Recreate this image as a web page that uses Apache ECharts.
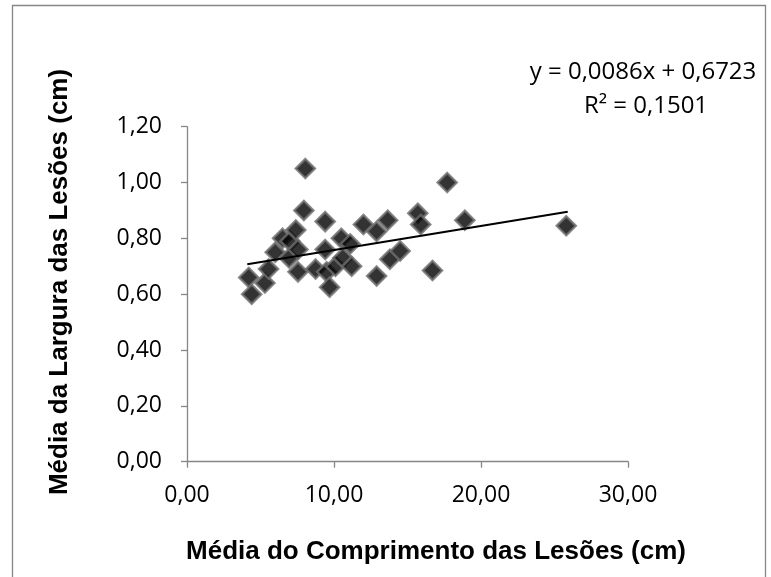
<!DOCTYPE html>
<html>
<head>
<meta charset="utf-8">
<script src="https://cdn.jsdelivr.net/npm/echarts@6/dist/echarts.min.js"></script>
<style>html,body{margin:0;padding:0;background:#fff}#c{width:771px;height:577px}</style>
</head>
<body>
<div id="c"></div>
<script>
const xValues = [4.2, 4.4, 5.3, 5.55, 6.0, 6.5, 7.0, 6.95, 7.4, 7.55, 7.55, 7.95, 8.05, 8.75, 9.4, 9.4, 9.5, 9.7, 10.1, 10.5, 10.6, 11.1, 11.2, 12.0, 12.9, 12.9, 13.65, 13.8, 14.5, 15.7, 15.9, 16.7, 17.7, 18.9, 25.8];
const yValues = [0.66, 0.60, 0.64, 0.69, 0.75, 0.80, 0.79, 0.73, 0.83, 0.76, 0.68, 0.90, 1.05, 0.69, 0.86, 0.76, 0.68, 0.625, 0.70, 0.80, 0.73, 0.78, 0.70, 0.85, 0.825, 0.665, 0.865, 0.725, 0.755, 0.89, 0.85, 0.685, 1.00, 0.865, 0.845];
const trendX = [4.1, 25.9];
const trendY = [0.7076, 0.8950];
const xTicks = [0, 10, 20, 30];
const yTicks = [0, 0.2, 0.4, 0.6, 0.8, 1.0, 1.2];
const xTitle = 'Média do Comprimento das Lesões (cm)';
const yTitle = 'Média da Largura das Lesões (cm)';
const eqLine1 = 'y = 0,0086x + 0,6723';
const eqLine2 = 'R² = 0,1501';

const fmt = v => v.toFixed(2).replace('.', ',');
const chart = echarts.init(document.getElementById('c'));
const axisCol = '#868686';
const tickFont = "'Open Sans', sans-serif";
chart.setOption({
  animation: false,
  backgroundColor: '#fff',
  grid: { left: 187, top: 126.7, right: 143, bottom: 115.3 },
  xAxis: {
    type: 'value', min: xTicks[0], max: xTicks[xTicks.length - 1], interval: 10,
    axisLine: { onZero: false, lineStyle: { color: axisCol, width: 1.3 } },
    axisTick: { show: true, inside: false, length: 6, lineStyle: { color: axisCol, width: 1.3 } },
    splitLine: { show: false },
    axisLabel: { formatter: fmt, color: '#000', fontFamily: tickFont, fontSize: 23, margin: 22 }
  },
  yAxis: {
    type: 'value', min: yTicks[0], max: yTicks[yTicks.length - 1], interval: 0.2,
    axisLine: { show: true, onZero: false, lineStyle: { color: axisCol, width: 1.3 } },
    axisTick: { show: true, inside: false, length: 6, lineStyle: { color: axisCol, width: 1.3 } },
    splitLine: { show: false },
    axisLabel: { formatter: fmt, color: '#000', fontFamily: tickFont, fontSize: 23, margin: 25 }
  },
  series: [
    {
      type: 'scatter',
      data: xValues.map((x, i) => [x, yValues[i]]),
      symbol: 'diamond',
      symbolSize: 19,
      itemStyle: { color: '#000', borderColor: '#6e6e6e', borderWidth: 2.5 },
      z: 2
    },
    {
      type: 'line',
      data: trendX.map((x, i) => [x, trendY[i]]),
      symbol: 'none',
      lineStyle: { color: '#000', width: 2 },
      z: 3
    }
  ],
  graphic: [
    { type: 'rect', shape: { x: 12.5, y: 5.5, width: 753, height: 600 }, style: { fill: 'none', stroke: axisCol, lineWidth: 1.3 }, silent: true },
    { type: 'text', x: 643, y: 72, style: { text: eqLine1, font: "24px 'Open Sans', sans-serif", fill: '#000', textAlign: 'center', textVerticalAlign: 'middle' } },
    { type: 'text', x: 646, y: 106, style: { text: eqLine2, font: "24px 'Open Sans', sans-serif", fill: '#000', textAlign: 'center', textVerticalAlign: 'middle' } },
    { type: 'text', x: 436, y: 552, style: { text: xTitle, font: "bold 26px 'Liberation Sans', Arial, sans-serif", fill: '#000', textAlign: 'center', textVerticalAlign: 'middle' } },
    { type: 'text', x: 60, y: 282, rotation: Math.PI / 2, style: { text: yTitle, font: "bold 26px 'Liberation Sans', Arial, sans-serif", fill: '#000', textAlign: 'center', textVerticalAlign: 'middle' } }
  ]
});
</script>
</body>
</html>
